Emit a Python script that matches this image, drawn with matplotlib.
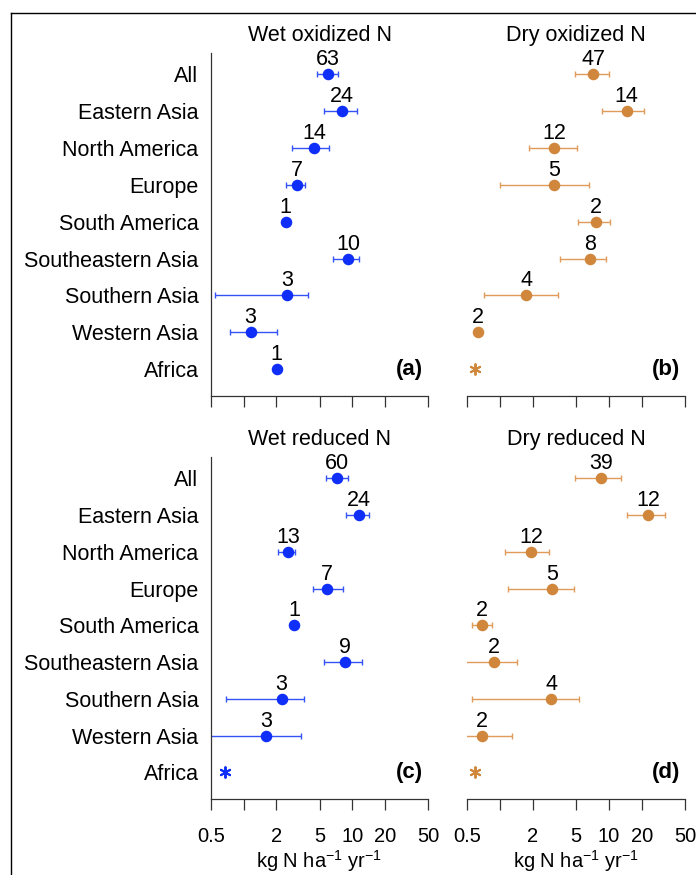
import numpy as np
import matplotlib
matplotlib.use('Agg')
import matplotlib.pyplot as plt
from matplotlib.lines import Line2D

plt.rcParams['font.family'] = ['Liberation Sans', 'DejaVu Sans']
plt.rcParams['mathtext.fontset'] = 'custom'
plt.rcParams['mathtext.rm'] = 'Liberation Sans'
plt.rcParams['mathtext.it'] = 'Liberation Sans:italic'

regions = ['All', 'Eastern Asia', 'North America', 'Europe', 'South America',
           'Southeastern Asia', 'Southern Asia', 'Western Asia', 'Africa']
nan = np.nan

# wet oxidized N
wox_mean = [5.98, 8.05, 4.48, 3.1, 2.44, 9.16, 2.51, 1.16, 2.01]
wox_low = [4.71, 5.55, 2.77, 2.44, nan, 6.65, 0.55, 0.75, nan]
wox_high = [7.36, 11.0, 6.08, 3.65, nan, 11.6, 3.94, 2.01, nan]
wox_n = ['63', '24', '14', '7', '1', '10', '3', '3', '1']

# dry oxidized N
dox_mean = [7.16, 14.5, 3.12, 3.1, 7.64, 6.68, 1.73, 0.63, nan]
dox_low = [4.9, 8.55, 1.84, 1.0, 5.15, 3.52, 0.717, nan, nan]
dox_high = [10.0, 21.0, 5.04, 6.54, 10.26, 9.44, 3.40, nan, nan]
dox_n = ['47', '14', '12', '5', '2', '8', '4', '2', '']

# wet reduced N
wred_mean = [7.29, 11.6, 2.55, 5.9, 2.93, 8.65, 2.24, 1.6, nan]
wred_low = [5.78, 8.7, 2.06, 4.32, nan, 5.55, 0.687, 0.45, nan]
wred_high = [9.1, 14.4, 2.97, 8.28, nan, 12.4, 3.62, 3.37, nan]
wred_n = ['60', '24', '13', '7', '1', '9', '3', '3', '']

# dry reduced N
dred_mean = [8.43, 22.9, 1.92, 2.97, 0.687, 0.885, 2.93, 0.687, nan]
dred_low = [4.9, 14.7, 1.11, 1.19, 0.55, 0.45, 0.555, 0.45, nan]
dred_high = [12.8, 32.6, 2.81, 4.8, 0.85, 1.42, 5.3, 1.28, nan]
dred_n = ['39', '12', '12', '5', '2', '2', '4', '2', '']

# Africa "no data" star positions (x) per panel
star_x = [nan, 0.59, 0.67, 0.59]

titles = ['Wet oxidized N', 'Dry oxidized N', 'Wet reduced N', 'Dry reduced N']
panel_tags = ['(a)', '(b)', '(c)', '(d)']
xticks = [0.5, 1, 2, 5, 10, 20, 50]
xticklabels = ['0.5', '', '2', '5', '10', '20', '50']

BLUE = '#0f2ef7'
BLUE_ERR = '#3552f7'
ORANGE = '#d0873c'
ORANGE_ERR = '#e09b5a'

W, H = 696, 875
fig = plt.figure(figsize=(W / 100, H / 100), dpi=100)

# axes boxes in pixels: left, top, right, bottom
boxes = [(211, 52.7, 428, 396), (467.3, 52.7, 685.3, 396),
         (211, 456.7, 428, 799.3), (467.3, 456.7, 685.3, 799.3)]

panels = [(wox_mean, wox_low, wox_high, wox_n, BLUE, BLUE_ERR),
          (dox_mean, dox_low, dox_high, dox_n, ORANGE, ORANGE_ERR),
          (wred_mean, wred_low, wred_high, wred_n, BLUE, BLUE_ERR),
          (dred_mean, dred_low, dred_high, dred_n, ORANGE, ORANGE_ERR)]

ypos = np.arange(len(regions))

for i, (box, (mean, low, high, nlab, col, ecol)) in enumerate(zip(boxes, panels)):
    l, t, r, b = box
    ax = fig.add_axes([l / W, 1 - b / H, (r - l) / W, (b - t) / H])
    mean = np.array(mean)
    low = np.array(low)
    high = np.array(high)

    has_err = np.isfinite(low)
    ax.errorbar(mean[has_err], ypos[has_err],
                xerr=[mean[has_err] - low[has_err], high[has_err] - mean[has_err]],
                fmt='none', ecolor=ecol, elinewidth=1.0, capsize=2.3, capthick=1.0)
    ax.plot(mean, ypos, 'o', color=col, markersize=7.3, linestyle='none')

    for k in range(len(regions)):
        if np.isfinite(mean[k]) and nlab[k]:
            ax.annotate(nlab[k], (mean[k], ypos[k]), xytext=(0, 6.5),
                        textcoords='offset points', ha='center', va='baseline',
                        fontsize=15.5)

    if np.isfinite(star_x[i]):
        ax.plot([star_x[i]], [ypos[-1]], marker=(6, 2, 0), color=col,
                markersize=8.5, markeredgewidth=1.4, linestyle='none')

    ax.set_xscale('log')
    ax.set_xlim(0.5, 50)
    ax.set_ylim(8.73, -0.59)
    ax.set_xticks(xticks)
    ax.minorticks_off()
    ax.tick_params(axis='x', direction='out', length=8, width=0.9,
                   color='#333333', pad=12, labelsize=14.5)
    if i < 2:
        ax.set_xticklabels([])
    else:
        ax.set_xticklabels(xticklabels)

    ax.set_yticks(ypos)
    if i % 2 == 0:
        ax.set_yticklabels(regions, fontsize=15.5)
    else:
        ax.set_yticklabels([])
        ax.spines['left'].set_visible(False)
    ax.tick_params(axis='y', length=0, pad=9)

    ax.spines['top'].set_visible(False)
    ax.spines['right'].set_visible(False)
    for s in ['left', 'bottom']:
        ax.spines[s].set_linewidth(0.9)
        ax.spines[s].set_color('#333333')

    ax.set_title(titles[i], fontsize=15.5, pad=8.3)
    ax.text(0.977, ypos[-1], panel_tags[i], transform=ax.get_yaxis_transform(),
            ha='right', va='center', fontsize=16, fontweight='bold')

    if i >= 2:
        fig.text((l + r) / 2 / W, 1 - 861 / H, r'kg N ha$^{-1}$ yr$^{-1}$',
                 ha='center', va='center', fontsize=14.5)

# outer frame (cropped on right and bottom)
fig.add_artist(Line2D([10.5 / W, 10.5 / W], [0, 1 - 13 / H], color='black', lw=1.0))
fig.add_artist(Line2D([10.5 / W, 1], [1 - 13 / H, 1 - 13 / H], color='black', lw=1.0))

fig.savefig('out.png', dpi=100)
